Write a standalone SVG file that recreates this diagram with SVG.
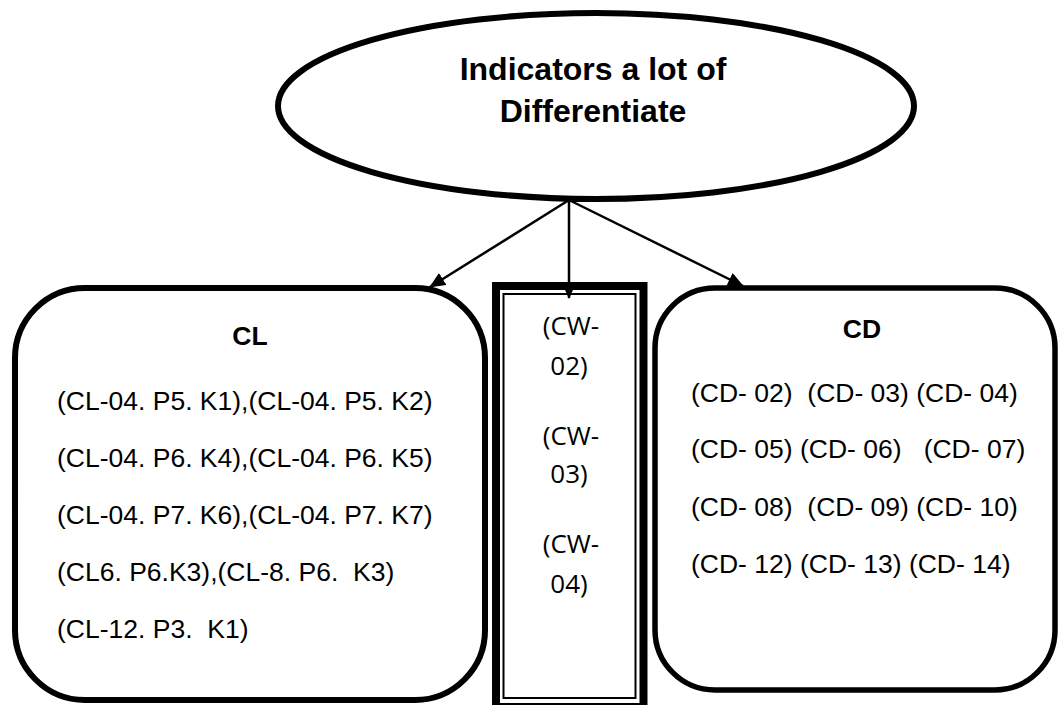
<svg xmlns="http://www.w3.org/2000/svg" width="1061" height="705" viewBox="0 0 1061 705">
<style>
.shape{fill:#fff;stroke:#000}
.t{font-family:"Liberation Sans",Arial,sans-serif;font-size:26.5px;fill:#000;white-space:pre}
.b{font-weight:bold;text-anchor:middle}
.title{font-family:"Liberation Sans",Arial,sans-serif;font-size:32px;font-weight:bold;text-anchor:middle;fill:#000}
.cw{font-family:"Open Sans","Noto Sans",sans-serif;font-size:26px;text-anchor:middle;fill:#000}
.conn{stroke:#000;stroke-width:2.5;fill:none}
</style>
<defs>
<marker id="ah" markerUnits="userSpaceOnUse" markerWidth="16" markerHeight="14" refX="15" refY="7" orient="auto">
<path d="M0,0 L16,7 L0,14 Z" fill="#000"/>
</marker>
</defs>
<rect width="1061" height="705" fill="#fff"/>
<g id="root">
<ellipse class="shape" cx="596" cy="106" rx="318" ry="93" stroke-width="6"/>
<text class="title" x="593" y="80">Indicators a lot of</text>
<text class="title" x="593" y="122">Differentiate</text>
</g>
<g id="cl">
<rect class="shape" x="15" y="288" width="470" height="412" rx="70" ry="70" stroke-width="6"/>
<text class="t b" x="250" y="345">CL</text>
<text class="t" x="57" y="410">(CL-04. P5. K1),(CL-04. P5. K2)</text>
<text class="t" x="57" y="467">(CL-04. P6. K4),(CL-04. P6. K5)</text>
<text class="t" x="57" y="524">(CL-04. P7. K6),(CL-04. P7. K7)</text>
<text class="t" x="57" y="581">(CL6. P6.K3),(CL-8. P6.  K3)</text>
<text class="t" x="57" y="638">(CL-12. P3.  K1)</text>
</g>
<g id="cw">
<rect class="shape" x="496" y="286" width="147.5" height="421" stroke-width="8"/>
<rect class="shape" x="503.5" y="294" width="132" height="404" stroke-width="2"/>
<text class="cw" x="571" y="335">(CW-</text>
<text class="cw" x="569" y="375">02)</text>
<text class="cw" x="571" y="445">(CW-</text>
<text class="cw" x="569" y="483">03)</text>
<text class="cw" x="571" y="553">(CW-</text>
<text class="cw" x="569" y="593">04)</text>
</g>
<g id="cd">
<rect class="shape" x="655" y="288" width="400" height="402" rx="60" ry="60" stroke-width="5.5"/>
<text class="t b" x="862" y="338">CD</text>
<text class="t" x="691" y="402">(CD- 02)  (CD- 03) (CD- 04)</text>
<text class="t" x="691" y="458">(CD- 05) (CD- 06)   (CD- 07)</text>
<text class="t" x="691" y="516">(CD- 08)  (CD- 09) (CD- 10)</text>
<text class="t" x="691" y="573">(CD- 12) (CD- 13) (CD- 14)</text>
</g>
<g id="connectors">
<line class="conn" x1="569" y1="200" x2="430" y2="287" marker-end="url(#ah)"/>
<line class="conn" x1="569" y1="200" x2="569" y2="298" marker-end="url(#ah)"/>
<line class="conn" x1="569" y1="200" x2="743" y2="286" marker-end="url(#ah)"/>
</g>
</svg>
